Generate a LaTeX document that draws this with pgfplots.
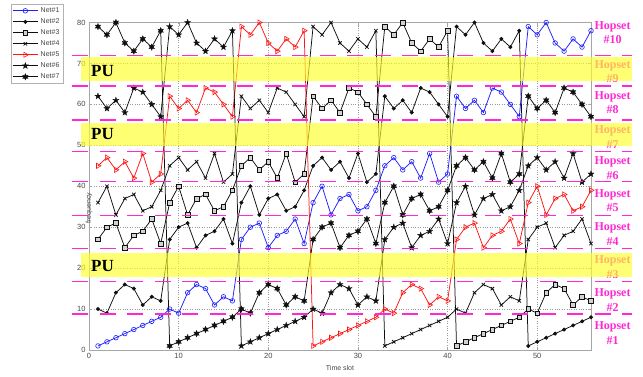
\documentclass[border=0pt]{standalone}
\usepackage{fontspec}
\setmainfont{Liberation Sans}
\newfontfamily\serifb{Liberation Serif}
\usepackage{pgfplots}
\usepackage{pgfplotstable}
\pgfplotsset{compat=1.18}

\definecolor{hop}{RGB}{255,40,210}
\definecolor{pu}{RGB}{255,255,40}
\definecolor{tickgray}{RGB}{70,70,70}
\definecolor{netblue}{RGB}{30,30,255}
\definecolor{netred}{RGB}{255,20,20}
\definecolor{netblack}{RGB}{15,15,15}

\pgfdeclareplotmark{pentagram}{%
  \pgfpathmoveto{\pgfpointpolar{90}{\pgfplotmarksize}}%
  \pgfpathlineto{\pgfpointpolar{126}{0.4\pgfplotmarksize}}%
  \pgfpathlineto{\pgfpointpolar{162}{\pgfplotmarksize}}%
  \pgfpathlineto{\pgfpointpolar{198}{0.4\pgfplotmarksize}}%
  \pgfpathlineto{\pgfpointpolar{234}{\pgfplotmarksize}}%
  \pgfpathlineto{\pgfpointpolar{270}{0.4\pgfplotmarksize}}%
  \pgfpathlineto{\pgfpointpolar{306}{\pgfplotmarksize}}%
  \pgfpathlineto{\pgfpointpolar{342}{0.4\pgfplotmarksize}}%
  \pgfpathlineto{\pgfpointpolar{18}{\pgfplotmarksize}}%
  \pgfpathlineto{\pgfpointpolar{54}{0.4\pgfplotmarksize}}%
  \pgfpathclose
  \pgfusepathqfillstroke}
\pgfdeclareplotmark{hexagram}{%
  \pgfpathmoveto{\pgfpointpolar{90}{\pgfplotmarksize}}%
  \pgfpathlineto{\pgfpointpolar{120}{0.5\pgfplotmarksize}}%
  \pgfpathlineto{\pgfpointpolar{150}{\pgfplotmarksize}}%
  \pgfpathlineto{\pgfpointpolar{180}{0.5\pgfplotmarksize}}%
  \pgfpathlineto{\pgfpointpolar{210}{\pgfplotmarksize}}%
  \pgfpathlineto{\pgfpointpolar{240}{0.5\pgfplotmarksize}}%
  \pgfpathlineto{\pgfpointpolar{270}{\pgfplotmarksize}}%
  \pgfpathlineto{\pgfpointpolar{300}{0.5\pgfplotmarksize}}%
  \pgfpathlineto{\pgfpointpolar{330}{\pgfplotmarksize}}%
  \pgfpathlineto{\pgfpointpolar{0}{0.5\pgfplotmarksize}}%
  \pgfpathlineto{\pgfpointpolar{30}{\pgfplotmarksize}}%
  \pgfpathlineto{\pgfpointpolar{60}{0.5\pgfplotmarksize}}%
  \pgfpathclose
  \pgfusepathqfillstroke}

\pgfplotstableread{
x n1 n2 n3 n4 n5 n6 n7
1 1 10 27 36 45 62 79
2 2 9 30 40 47 59 77
3 3 14 31 33 44 61 80
4 4 16 25 37 46 58 75
5 5 15 28 38 42 64 73
6 6 11 29 34 48 63 76
7 7 13 32 35 41 60 74
8 8 12 26 39 43 57 78
9 10 27 36 45 62 79 1
10 9 30 40 47 59 77 2
11 14 31 33 44 61 80 3
12 16 25 37 46 58 75 4
13 15 28 38 42 64 73 5
14 11 29 34 48 63 76 6
15 13 32 35 41 60 74 7
16 12 26 39 43 57 78 8
17 27 36 45 62 79 1 10
18 30 40 47 59 77 2 9
19 31 33 44 61 80 3 14
20 25 37 46 58 75 4 16
21 28 38 42 64 73 5 15
22 29 34 48 63 76 6 11
23 32 35 41 60 74 7 13
24 26 39 43 57 78 8 12
25 36 45 62 79 1 10 27
26 40 47 59 77 2 9 30
27 33 44 61 80 3 14 31
28 37 46 58 75 4 16 25
29 38 42 64 73 5 15 28
30 34 48 63 76 6 11 29
31 35 41 60 74 7 13 32
32 39 43 57 78 8 12 26
33 45 62 79 1 10 27 36
34 47 59 77 2 9 30 40
35 44 61 80 3 14 31 33
36 46 58 75 4 16 25 37
37 42 64 73 5 15 28 38
38 48 63 76 6 11 29 34
39 41 60 74 7 13 32 35
40 43 57 78 8 12 26 39
41 62 79 1 10 27 36 45
42 59 77 2 9 30 40 47
43 61 80 3 14 31 33 44
44 58 75 4 16 25 37 46
45 64 73 5 15 28 38 42
46 63 76 6 11 29 34 48
47 60 74 7 13 32 35 41
48 57 78 8 12 26 39 43
49 79 1 10 27 36 45 62
50 77 2 9 30 40 47 59
51 80 3 14 31 33 44 61
52 75 4 16 25 37 46 58
53 73 5 15 28 38 42 64
54 76 6 11 29 34 48 63
55 74 7 13 32 35 41 60
56 78 8 12 26 39 43 57
}\data

\begin{document}
\begin{tikzpicture}[x=1pt,y=1pt]
\path[use as bounding box] (0,0) rectangle (643,376);
\begin{axis}[
  at={(89pt,26pt)}, anchor=south west,
  width=502pt, height=327.5pt, scale only axis,
  xmin=0, xmax=56, ymin=0, ymax=80,
  xtick={0,10,...,50}, ytick={0,10,...,80},
  grid=major,
  grid style={dotted, gray!80, line width=0.5pt},
  axis line style={gray!70, line width=0.6pt},
  tick align=inside, major tick length=3pt,
  tick style={gray!70},
  /pgf/number format/assume math mode=true,
  ticklabel style={font=\fontsize{7.5}{8}\selectfont, text=tickgray},
  xlabel={Time slot}, ylabel={frequency},
  label style={font=\fontsize{7}{8}\selectfont, text=tickgray},
  xlabel style={at={(rel axis cs:0.5,0)}, anchor=center, yshift=-18pt},
  ylabel style={at={(rel axis cs:0,0.5)}, anchor=center, xshift=-22pt},
  legend image code/.code={\draw[mark repeat=2,mark phase=2] plot coordinates {(0pt,0pt) (12.5pt,0pt) (25pt,0pt)};},
  legend cell align=left,
  legend style={at={(-0.155,1.0565)}, anchor=north west, draw=gray!60, line width=0.6pt, fill=white,
    font=\fontsize{7}{8}\selectfont, text=tickgray, inner sep=1pt, row sep=0pt,
    nodes={text height=4.8pt, text depth=1.2pt, inner sep=2.5pt}},
  every axis plot/.append style={line width=0.75pt},
]
\addplot[color=netblue, mark=o, mark size=2.3pt, mark options={solid, line width=0.6pt}] table[x=x,y=n1] {\data};
\addplot[color=netblack, mark=*, mark size=1.6pt] table[x=x,y=n2] {\data};
\addplot[color=netblack, mark=square*, mark size=2.3pt, mark options={fill=gray!35, line width=0.6pt}] table[x=x,y=n3] {\data};
\addplot[color=netblack, mark=x, mark size=2.4pt] table[x=x,y=n4] {\data};
\addplot[color=netred, mark=triangle, mark size=3pt, mark options={rotate=-90, line width=0.6pt}] table[x=x,y=n5] {\data};
\addplot[color=netblack, mark=pentagram, mark size=3.2pt, mark options={fill=netblack, line width=0.3pt}] table[x=x,y=n6] {\data};
\addplot[color=netblack, mark=hexagram, mark size=3.2pt, mark options={fill=netblack, line width=0.3pt}] table[x=x,y=n7] {\data};
\legend{Net\#1,Net\#2,Net\#3,Net\#4,Net\#5,Net\#6,Net\#7}
\end{axis}

% hopset boundaries
\foreach \yy in {62,94.7,127.7,160.3,194.3,224.3,256,290,320.3}{
  \draw[hop, line width=1.5pt, dash pattern=on 16pt off 11.5pt] (72,\yy) -- (632,\yy);
}
% hopset labels
\foreach \yy/\lab in {343.5/10,304.5/9,273.5/8,239/7,208/6,175.5/5,142/4,109/3,76/2,43/1}{
  \node[align=center, inner sep=0pt, text=hop, font=\serifb\bfseries\fontsize{12}{14.5}\selectfont] at (612.5,\yy) {Hopset\\\#\lab};
}
% PU bands
\fill[pu, fill opacity=0.65] (81,294.7) rectangle (632,318.7);
\fill[pu, fill opacity=0.65] (81,230) rectangle (632,253.3);
\fill[pu, fill opacity=0.65] (81,98.7) rectangle (632,123.3);
\foreach \yy in {305,242,109.5}{
  \node[anchor=west, inner sep=0pt, font=\serifb\bfseries\fontsize{17}{17}\selectfont] at (91,\yy) {PU};
}
\end{tikzpicture}
\end{document}
